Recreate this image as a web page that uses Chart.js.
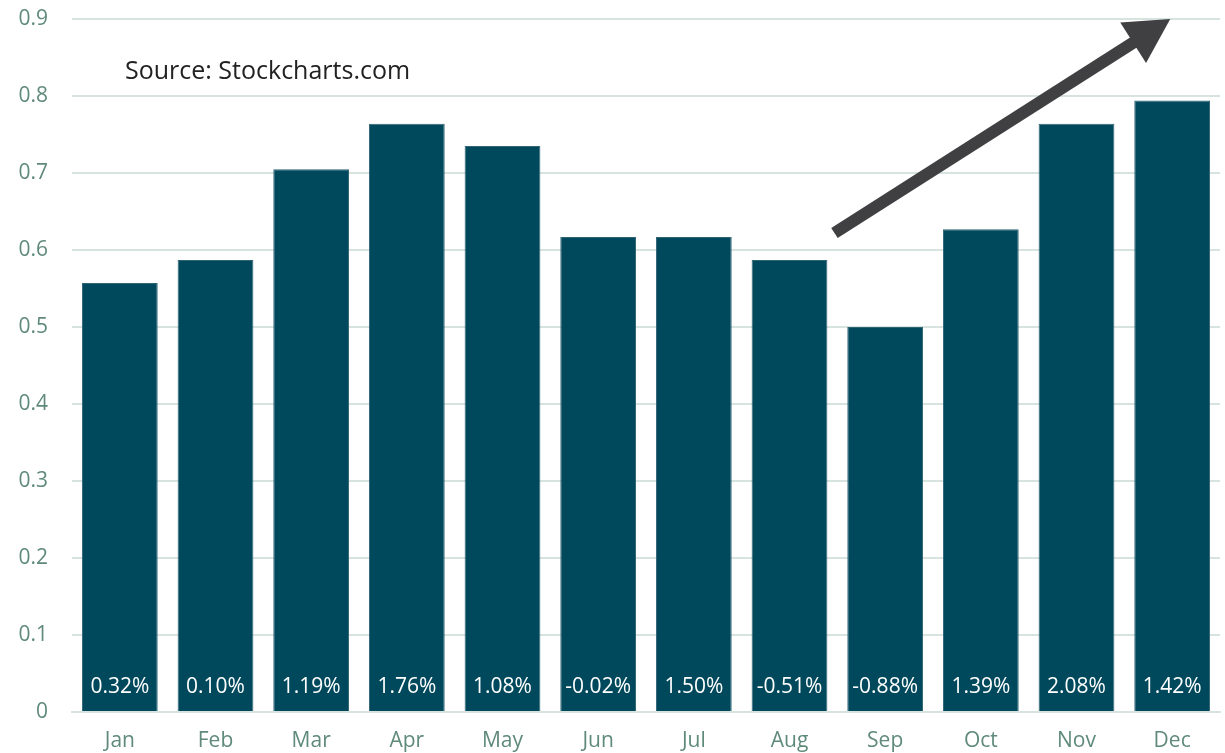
<!DOCTYPE html>
<html>
<head>
<meta charset="utf-8">
<script src="https://cdn.jsdelivr.net/npm/chart.js@4.4.0/dist/chart.umd.min.js"></script>
<style>
  html, body { margin: 0; padding: 0; background: #fff; }
  #wrap { width: 1225px; height: 753px; }
</style>
</head>
<body>
<div id="wrap"><canvas id="bars"></canvas></div>
<script>
// monthly values and the % labels printed inside the bars
const months = ['Jan', 'Feb', 'Mar', 'Apr', 'May', 'Jun', 'Jul', 'Aug', 'Sep', 'Oct', 'Nov', 'Dec'];
const values = [0.557, 0.587, 0.705, 0.764, 0.735, 0.617, 0.617, 0.587, 0.5, 0.627, 0.764, 0.794];
const pctLabels = ['0.32%', '0.10%', '1.19%', '1.76%', '1.08%', '-0.02%', '1.50%', '-0.51%', '-0.88%', '1.39%', '2.08%', '1.42%'];
const yTicks = [0, 0.1, 0.2, 0.3, 0.4, 0.5, 0.6, 0.7, 0.8, 0.9];

const FONT = '"Open Sans", "Noto Sans", sans-serif';

// === labels inside the bars, source note and trend arrow ===
const extras = {
    id: 'extras',
    afterDatasetsDraw(chart) {
        const ctx = chart.ctx;
        const x = chart.scales.x, y = chart.scales.y;
        ctx.save();

        // white % at the bottom of each bar
        ctx.fillStyle = '#ffffff';
        ctx.font = '21px ' + FONT;
        ctx.textAlign = 'center';
        ctx.textBaseline = 'middle';
        chart.getDatasetMeta(0).data.forEach((bar, i) => {
            ctx.fillText(pctLabels[i], bar.x, y.getPixelForValue(0) - 25);
        });

        // source
        ctx.fillStyle = '#222222';
        ctx.font = '25px ' + FONT;
        ctx.textAlign = 'left';
        ctx.textBaseline = 'alphabetic';
        ctx.fillText('Source: Stockcharts.com', 125, 79);

        // arrow, placed in data coordinates (Sep -> Dec)
        const x0 = x.getPixelForValue(7.47), y0 = y.getPixelForValue(0.622);
        const x1 = x.getPixelForValue(10.98), y1 = y.getPixelForValue(0.9);
        const ang = Math.atan2(y1 - y0, x1 - x0);
        const headLen = 44, headW = 24;
        const bx = x1 - headLen * Math.cos(ang), by = y1 - headLen * Math.sin(ang);
        ctx.strokeStyle = '#404042';
        ctx.fillStyle = '#404042';
        ctx.lineWidth = 12;
        ctx.lineCap = 'butt';
        ctx.beginPath();
        ctx.moveTo(x0, y0);
        ctx.lineTo(bx + 2 * Math.cos(ang), by + 2 * Math.sin(ang));
        ctx.stroke();
        ctx.beginPath();
        ctx.moveTo(x1, y1);
        ctx.lineTo(bx + headW * Math.sin(ang), by - headW * Math.cos(ang));
        ctx.lineTo(bx - headW * Math.sin(ang), by + headW * Math.cos(ang));
        ctx.closePath();
        ctx.fill();

        ctx.restore();
    }
};

new Chart(document.getElementById('bars').getContext('2d'), {
    type: 'bar',
    data: {
        labels: months,
        datasets: [{
            data: values,
            backgroundColor: '#00495c',
            borderColor: '#2f6475',
            borderWidth: 1,
            categoryPercentage: 0.8,
            barPercentage: 0.99
        }]
    },
    options: {
        responsive: true,
        maintainAspectRatio: false,
        animation: false,
        layout: { padding: { top: 19, right: 5, bottom: 0, left: 0 } },
        plugins: {
            legend: { display: false },
            tooltip: { enabled: false }
        },
        scales: {
            x: {
                grid: { display: false, drawTicks: false },
                border: { display: true, color: '#d6e3de', width: 2 },
                ticks: { color: '#5f8a7a', font: { family: FONT, size: 21 }, padding: 16 },
                afterFit: s => { s.height = 41; s.paddingLeft = 0; s.paddingRight = 0; }
            },
            y: {
                min: 0,
                max: 0.9,
                afterBuildTicks: s => { s.ticks = yTicks.map(v => ({ value: v })); },
                grid: { color: '#d6e3de', lineWidth: 2, drawTicks: false },
                border: { display: false },
                ticks: {
                    color: '#5f8a7a',
                    font: { family: FONT, size: 21 },
                    padding: 24,
                    callback: v => String(Math.round(v * 10) / 10)
                },
                afterFit: s => { s.width = 72; s.paddingTop = 0; s.paddingBottom = 0; }
            }
        }
    },
    plugins: [extras]
});
</script>
</body>
</html>
